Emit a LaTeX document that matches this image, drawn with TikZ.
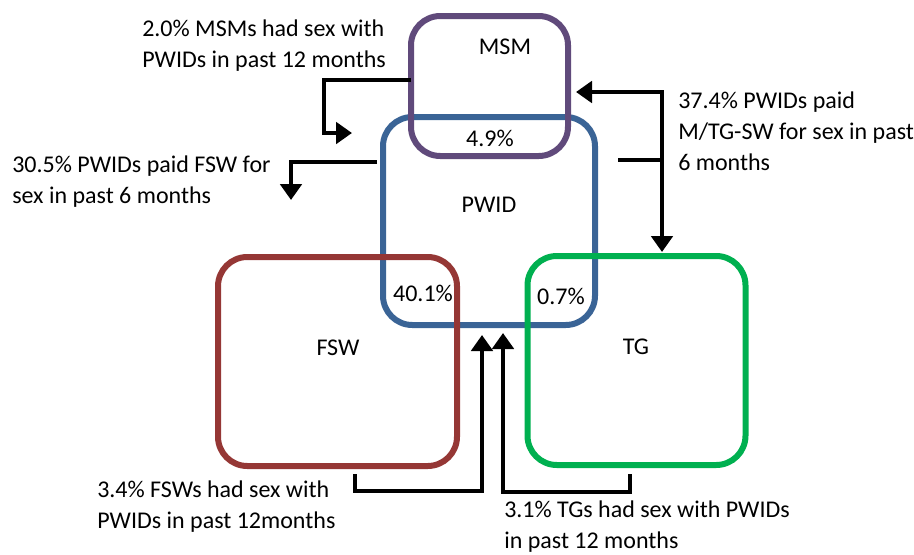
\documentclass[tikz,border=0pt]{standalone}
\usepackage{fontspec}
\setmainfont{Carlito}
\usetikzlibrary{arrows.meta, calc}

\definecolor{msmc}{HTML}{604A7B}
\definecolor{pwidc}{HTML}{3A6496}
\definecolor{fswc}{HTML}{953735}
\definecolor{tgc}{HTML}{00B050}

\begin{document}
\begin{tikzpicture}[x=0.75pt, y=-0.75pt, >={Triangle[length=12pt, width=16pt]},
    every node/.style={font=\fontsize{18}{23.25}\selectfont},
    box/.style={draw=#1, line width=4.5pt, rounded corners=22pt, outer sep=0pt},
    flow/.style={->, line width=3pt},
    note/.style={anchor=north west, align=left, inner sep=0pt}]
  \useasboundingbox (0,0) rectangle (914,554);
  \node[box=pwidc, minimum width=159pt, minimum height=156pt] (pwid) at (489,221) {};
  \node[box=msmc, minimum width=117.75pt, minimum height=105pt] (msm) at (489.5,86) {};
  \node[box=fswc, minimum width=179.25pt, minimum height=156.75pt] (fsw) at (337.5,361.5) {};
  \node[box=tgc, minimum width=163.5pt, minimum height=156.75pt] (tg) at (636.5,360.5) {};
  % group names and overlaps
  \node (msmname) at (505,47) {MSM};
  \node (msmpwid) at (490,138) {4.9\%};
  \node (pwidname) at (489,205) {PWID};
  \node (fswpwid) at (423,293) {40.1\%};
  \node (tgpwid) at (561,296) {0.7\%};
  \node (fswname) at (338,348) {FSW};
  \node (tgname) at (636,347) {TG};
  % notes
  \node[note] (msmnote) at (142,20) {2.0\% MSMs had sex with\\PWIDs in past 12 months};
  \node[note] (paidfsw) at (12,156) {30.5\% PWIDs paid FSW for\\sex in past 6 months};
  \node[note] (paidtg) at (678,92) {37.4\% PWIDs paid\\M/TG-SW for sex in past\\6 months};
  \node[note] (fswnote) at (97,481) {3.4\% FSWs had sex with\\PWIDs in past 12months};
  \node[note] (tgnote) at (504,501) {3.1\% TGs had sex with PWIDs\\in past 12 months};
  % connectors
  \draw[flow] ($(msm.west)+(0,-6)$) -| ($(pwid.west)+(-59,-88)$) -- ($(pwid.west)+(-31,-88)$);
  \draw[flow] ($(pwid.west)+(-6,-59)$) -| ($(pwid.west)+(-92,-21)$);
  \draw[flow, <->] ($(msm.east)+(8,6)$) -| ($(tg.north)+(25.5,-4)$);
  \draw[line width=3pt] ($(pwid.east)+(23,-61)$) -- ($(pwid.east)+(67,-61)$);
  \draw[flow] ($(fsw.south)+(17.5,8)$) |- ($(pwid.south)+(-7,166)$) -- ($(pwid.south)+(-7,10)$);
  \draw[flow] ($(tg.south)+(-6.5,9)$) |- ($(pwid.south)+(14,167)$) -- ($(pwid.south)+(14,8)$);
\end{tikzpicture}
\end{document}
